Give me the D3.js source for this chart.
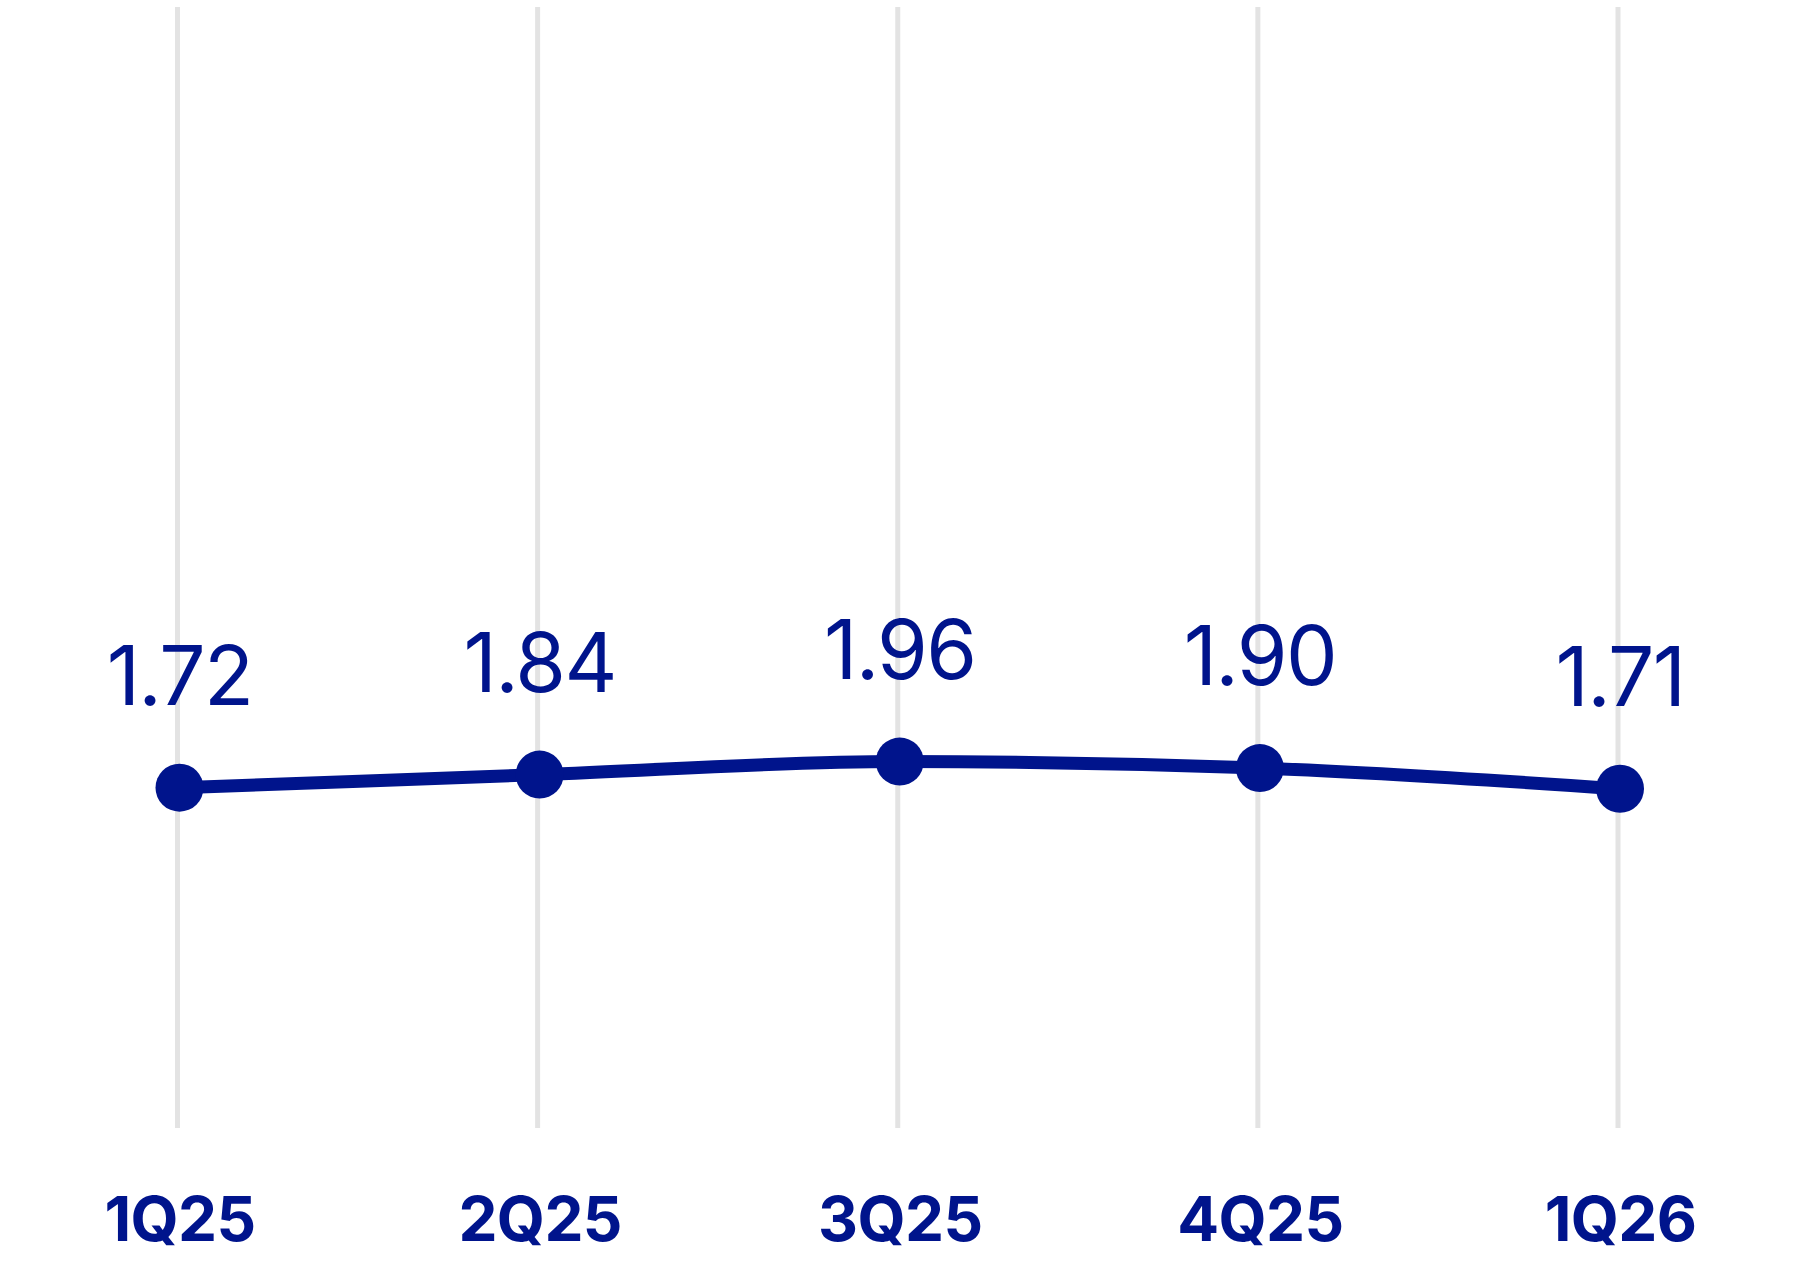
<!DOCTYPE html>
<html>
<head>
<meta charset="utf-8">
<script src="https://cdn.jsdelivr.net/npm/d3@7"></script>
<style>
  html, body { margin: 0; padding: 0; background: #fff; }
  svg { display: block; }
</style>
</head>
<body>
<div id="chart"></div>
<script>
const quarters = ["1Q25", "2Q25", "3Q25", "4Q25", "1Q26"];
const values = [1.72, 1.84, 1.96, 1.90, 1.71];
const valueLabels = ["1.72", "1.84", "1.96", "1.90", "1.71"];

const W = 1800, H = 1266, NAVY = "#00148c", GRID = "#e3e3e3";
const FONT = "Inter, 'Open Sans', sans-serif";

const svg = d3.select("#chart").append("svg").attr("width", W).attr("height", H);

const x = d3.scalePoint().domain(quarters).range([179.5, 1620]);
const y = d3.scaleLinear().domain([0, 4]).range([975, 539.4]);

// vertical gridlines
svg.append("g").selectAll("line").data(quarters).join("line")
    .attr("x1", d => x(d) - 2).attr("x2", d => x(d) - 2)
    .attr("y1", 7).attr("y2", 1128)
    .attr("stroke", GRID).attr("stroke-width", 5);

const pts = quarters.map((q, i) => ({ q, v: values[i], label: valueLabels[i] }));

const line = d3.line().x(d => x(d.q)).y(d => y(d.v)).curve(d3.curveMonotoneX);
svg.append("path").datum(pts).attr("d", line)
    .attr("fill", "none").attr("stroke", NAVY).attr("stroke-width", 13);

svg.append("g").selectAll("circle").data(pts).join("circle")
    .attr("cx", d => x(d.q)).attr("cy", d => y(d.v)).attr("r", 24).attr("fill", NAVY);

svg.append("g").selectAll("text").data(pts).join("text")
    .attr("x", d => x(d.q)).attr("y", d => y(d.v) - 83)
    .attr("text-anchor", "middle").attr("fill", NAVY)
    .style("font-family", FONT).style("font-size", "82px").style("font-weight", 400)
    .style("letter-spacing", "-0.02em")
    .text(d => d.label);

// category axis, no domain line or ticks
const xAxis = svg.append("g").attr("transform", "translate(0,1241)")
    .call(d3.axisBottom(x).tickSize(0).tickPadding(0));
xAxis.select(".domain").remove();
xAxis.selectAll("text").attr("dy", 0).attr("fill", NAVY)
    .style("font-family", FONT).style("font-size", "62px").style("font-weight", 700)
    .style("letter-spacing", "-0.01em");
</script>
</body>
</html>
